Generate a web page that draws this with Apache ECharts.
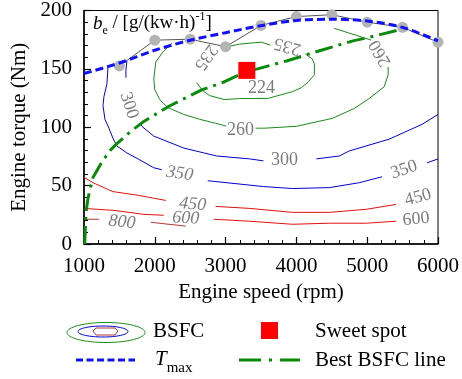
<!DOCTYPE html>
<html><head><meta charset="utf-8">
<script src="https://cdn.jsdelivr.net/npm/echarts@6/dist/echarts.min.js"></script>
<style>html,body{margin:0;padding:0;background:#fff}#c{width:462px;height:379px}</style>
</head><body><div id="c"></div>
<script>
// ---------- DATA ----------
const xTickValues = [1000, 2000, 3000, 4000, 5000, 6000];
const yTickValues = [0, 50, 100, 150, 200];

// Max torque curve (Tmax)
const tmaxRpm    = [1000, 1500, 2000, 2500, 3000, 3500, 4000, 4500, 5000, 5500, 6000];
const tmaxTorque = [146, 155, 166, 174.5, 181, 187, 191.5, 192.5, 191, 185.5, 174];

// Measured full-load points (grey)
const measRpm    = [1500, 2000, 2500, 3000, 3500, 4000, 4500, 5000, 5500, 6000];
const measTorque = [152.5, 174.6, 175.4, 169, 187.2, 194.8, 196.4, 190, 185.6, 172.9];

// Best BSFC line
const bestRpm    = [1010, 1028, 1056, 1127, 1250, 1366, 1465, 1650, 1845, 2200, 2662, 2986, 3300, 3451, 3873, 4352, 4800, 5028, 5493];
const bestTorque = [0, 27, 39, 57, 70, 80, 86, 96, 105, 118, 132, 139, 148, 150, 157, 166, 174, 177, 184];

// Sweet spot
const sweetSpot = [3300, 148.7];

// BSFC contour segments [rpm, torque]
const bsfc235 = [
  [[3000,168.6],[3197,171.2],[3507,172.9],[3634,170.3]],
  [[4127,162.7],[4225,158.5],[4254,154.2],[4254,144.9],[4169,139],[4070,133.9],[3944,130.5],[3592,124.6],[3197,124.6],[2986,123.7],[2775,127.1],[2676,131.4],[2592,138.1]]
];
const bsfc260 = [
  [[2239,172],[2113,164.4],[2014,155.9],[1986,141.5],[2000,132.2],[2070,123.7],[2183,116.9],[2408,111],[2634,106.8],[2859,103.4],[3010,101]],
  [[3423,99.2],[3549,99.2],[4000,100.8],[4507,107.6],[4817,116.1],[5028,124.6],[5240,134.7],[5296,144.9],[5296,151.7]],
  [[5056,174.6],[4930,177.1],[4535,184.7]]
];
const bsfc300 = [
  [[1606,156.8],[1592,149],[1592,142.4]],
  [[1789,103.4],[1817,100.8],[1986,92.4],[2408,82.2],[2873,75.4],[3338,72.9],[3535,71.2]],
  [[4282,72.9],[4606,75.4],[4746,79.7],[5310,89.8],[5775,102.5],[6000,111]]
];
const bsfc350 = [
  [[1338,150.8],[1324,137.3],[1282,126.3],[1268,118.6],[1296,106.8],[1352,99.2],[1408,90.7],[1465,83.9],[1606,78],[1789,72],[1986,65.3],[2099,63.6]],
  [[2747,54.2],[3535,49.2],[3944,47.5],[4465,48.3],[4888,52.5],[5211,57.6]],
  [[5845,69.5],[6000,72.9]]
];
const bsfc450 = [
  [[1000,57.2],[1127,52.5],[1408,44.9],[1789,41.5],[2155,37.3]],
  [[2859,32.2],[3338,30.5],[3944,27.1],[4465,27.1],[4986,29.7],[5409,33.9]]
];
const bsfc600 = [
  [[1000,30.5],[1423,28.8],[1845,25.4],[2127,24.6]],
  [[2831,21.2],[3338,19.5],[3944,16.9],[4465,17.8],[4986,17.8],[5409,19.5]]
];
const bsfc800 = [
  [[1000,21.2],[1211,21.2]],
  [[1944,18.6],[2437,15.3]]
];

// Contour labels
const labelText   = ['300', '260', '235', '235', '224', '260', '300', '350', '350', '450', '450', '600', '600', '800'];
const labelRpm    = [1634, 5183, 2718, 3873, 3507, 3211, 3831, 2352, 5521, 2535, 5718, 2437, 5690, 1535];
const labelTorque = [118.6, 163.5, 160, 169.5, 133, 97.5, 72, 60.2, 63.6, 33.9, 39.8, 22, 21.2, 18.6];

// ---------- STYLE ----------
const FONT = "'Liberation Serif','Times New Roman',serif";
const labelAngle  = [-72, 120, -125, 165, 0, 0, 0, -8, 18, -5, 15, -3, 5, -5];
const labelItalic = [false, false, false, false, false, false, false, true, false, true, false, true, false, true];
const C_GREEN = '#1a8a1a', C_BLUE = '#0000d0', C_RED = '#e01010', C_DRED = '#b03838';

function contourSeries(segs, color) {
  return segs.map(seg => ({
    type: 'line', data: seg, symbol: 'none', silent: true, z: 2,
    lineStyle: { color: color, width: 1 }
  }));
}
const zip = (a, b) => a.map((v, i) => [v, b[i]]);

const series = [].concat(
  contourSeries(bsfc235, C_GREEN),
  contourSeries(bsfc260, C_GREEN),
  contourSeries(bsfc300, C_BLUE),
  contourSeries(bsfc350, C_BLUE),
  contourSeries(bsfc450, C_RED),
  contourSeries(bsfc600, C_RED),
  contourSeries(bsfc800, C_DRED),
  [{
    type: 'scatter', symbolSize: 0, silent: true, z: 3,
    data: labelText.map((t, i) => ({
      value: [labelRpm[i], labelTorque[i]], name: t,
      label: { rotate: labelAngle[i], fontStyle: labelItalic[i] ? 'italic' : 'normal' }
    })),
    label: { show: true, position: 'inside', formatter: p => p.name,
      fontFamily: FONT, fontSize: 18, color: '#5a5a5a' }
  }, {
    type: 'line', data: zip(bestRpm, bestTorque), symbol: 'none', z: 4, silent: true,
    lineStyle: { color: '#0a8a0a', width: 3, type: [18, 6, 3, 6] }
  }, {
    type: 'line', data: zip(measRpm, measTorque), symbol: 'circle', symbolSize: 11, z: 5, silent: true,
    lineStyle: { color: '#555', width: 1 }, itemStyle: { color: '#b4b4b4' }
  }, {
    type: 'line', data: zip(tmaxRpm, tmaxTorque), symbol: 'none', smooth: 0.3, z: 6, silent: true,
    lineStyle: { color: '#1010ff', width: 3, type: [8, 4] }
  }, {
    type: 'scatter', data: [sweetSpot], symbol: 'rect', symbolSize: 17, z: 20, silent: true,
    itemStyle: { color: '#ff0000', opacity: 1 }
  }]
);

const axisCommon = {
  type: 'value', nameLocation: 'middle',
  nameTextStyle: { fontFamily: FONT, fontSize: 21, color: '#000' },
  axisLine: { show: true, lineStyle: { color: '#000', width: 1.5 } },
  axisTick: { show: true, inside: true, length: 7, lineStyle: { color: '#000', width: 1.2 } },
  minorTick: { show: true, splitNumber: 5, length: 4, lineStyle: { color: '#000', width: 1 } },
  axisLabel: { fontFamily: FONT, fontSize: 21, color: '#000', formatter: v => String(v) },
  splitLine: { show: false }, minorSplitLine: { show: false }
};

const option = {
  animation: false,
  grid: { left: 84, right: 23, top: 8, bottom: 135, show: true, borderColor: '#000', borderWidth: 1 },
  xAxis: Object.assign({}, axisCommon, {
    min: xTickValues[0], max: xTickValues[xTickValues.length - 1], interval: 1000,
    name: 'Engine speed (rpm)', nameGap: 37,
    axisLabel: Object.assign({}, axisCommon.axisLabel, { margin: 12 })
  }),
  yAxis: Object.assign({}, axisCommon, {
    min: yTickValues[0], max: yTickValues[yTickValues.length - 1], interval: 50,
    name: 'Engine torque (Nm)', nameGap: 54,
    axisLabel: Object.assign({}, axisCommon.axisLabel, { margin: 12 })
  }),
  series: series,
  graphic: [
    { type: 'text', left: 93, top: 11, z: 10, style: {
      text: '{i|b}{sub|e}{n| / [g/(kw·h)}{sup|-1}{n|]}',
      rich: {
        i: { fontFamily: FONT, fontSize: 19, fontStyle: 'italic', color: '#000', verticalAlign: 'bottom', lineHeight: 22 },
        n: { fontFamily: FONT, fontSize: 19, color: '#000', verticalAlign: 'bottom', lineHeight: 22 },
        sub: { fontFamily: FONT, fontSize: 12, color: '#000', verticalAlign: 'bottom', lineHeight: 16, padding: [0, 0, -4, 0] },
        sup: { fontFamily: FONT, fontSize: 12, color: '#000', verticalAlign: 'top', lineHeight: 22 }
      } } },
    // Legend: BSFC icon
    { type: 'ellipse', shape: { cx: 106, cy: 332.5, rx: 39, ry: 10 }, style: { fill: 'none', stroke: C_GREEN, lineWidth: 1 } },
    { type: 'ellipse', shape: { cx: 103, cy: 331.5, rx: 25, ry: 5.5 }, style: { fill: 'none', stroke: C_BLUE, lineWidth: 1 } },
    { type: 'polygon', shape: { points: [[93,331],[96,328],[115,328],[118,331],[115,335],[96,335]] }, style: { fill: 'none', stroke: C_DRED, lineWidth: 1 } },
    { type: 'text', left: 153, top: 321, style: { text: 'BSFC', fontFamily: FONT, fontSize: 21, fill: '#000' } },
    { type: 'rect', shape: { x: 261, y: 322, width: 17, height: 17 }, style: { fill: '#ff0000' } },
    { type: 'text', left: 315, top: 321, style: { text: 'Sweet spot', fontFamily: FONT, fontSize: 21, fill: '#000' } },
    { type: 'line', shape: { x1: 76, y1: 360, x2: 135, y2: 360 }, style: { stroke: '#1010ff', lineWidth: 3, lineDash: [7, 3.5] } },
    { type: 'text', left: 155, top: 349, style: {
      text: '{t|T}{s|max}',
      rich: {
        t: { fontFamily: FONT, fontSize: 21, fontStyle: 'italic', fill: '#000', verticalAlign: 'bottom', lineHeight: 24 },
        s: { fontFamily: FONT, fontSize: 15, fill: '#000', verticalAlign: 'bottom', lineHeight: 18, padding: [0, 0, -6, 0] }
      } } },
    { type: 'line', shape: { x1: 239, y1: 360, x2: 300, y2: 360 }, style: { stroke: '#0a8a0a', lineWidth: 3, lineDash: [22, 8, 3, 8] } },
    { type: 'text', left: 315, top: 350, style: { text: 'Best BSFC line', fontFamily: FONT, fontSize: 21, fill: '#000' } }
  ]
};

const chart = echarts.init(document.getElementById('c'), null, { renderer: 'canvas' });
chart.setOption(option);
</script>
</body></html>
